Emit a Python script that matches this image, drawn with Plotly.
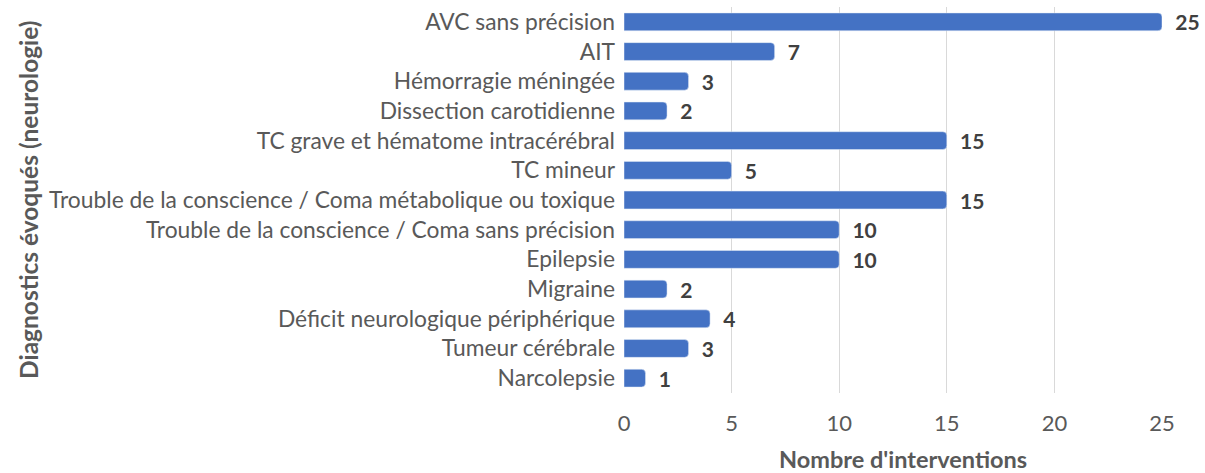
import plotly.graph_objects as go

categories = [
    "AVC sans précision",
    "AIT",
    "Hémorragie méningée",
    "Dissection carotidienne",
    "TC grave et hématome intracérébral",
    "TC mineur",
    "Trouble de la conscience / Coma métabolique ou toxique",
    "Trouble de la conscience / Coma sans précision",
    "Epilepsie",
    "Migraine",
    "Déficit neurologique périphérique",
    "Tumeur cérébrale",
    "Narcolepsie",
]
values = [25, 7, 3, 2, 15, 5, 15, 10, 10, 2, 4, 3, 1]
x_ticks = [0, 5, 10, 15, 20, 25]

FONT = "Lato"
GRAY = "#595959"

fig = go.Figure(
    go.Bar(
        x=values,
        y=categories,
        orientation="h",
        marker=dict(color="#4472C4"),
        width=0.6,
        text=["\u00a0\u00a0" + str(v) for v in values],
        textposition="outside",
        constraintext="none",
        textfont=dict(family=FONT, size=21, color="#404040", weight="bold"),
        cliponaxis=False,
        hoverinfo="skip",
    )
)

fig.update_layout(
    width=1205,
    height=473,
    margin=dict(l=624, r=43, t=7, b=80, autoexpand=False),
    plot_bgcolor="white",
    paper_bgcolor="white",
    barcornerradius=4,
    showlegend=False,
    font=dict(family=FONT, size=22, color=GRAY),
)
fig.update_xaxes(
    range=[0, 25],
    tickvals=x_ticks,
    showgrid=True,
    gridcolor="#D9D9D9",
    gridwidth=1,
    zeroline=False,
    showline=False,
    ticks="",
    ticklabelstandoff=15,
    automargin=False,
    tickfont=dict(family=FONT, size=22, color=GRAY),
)
fig.update_yaxes(
    categoryorder="array",
    categoryarray=categories[::-1],
    showgrid=False,
    ticks="",
    ticklabelstandoff=8,
    automargin=False,
    tickfont=dict(family=FONT, size=22.8, color=GRAY),
)
fig.add_annotation(
    text="<b>Diagnostics évoqués (neurologie)</b>", textangle=-90, showarrow=False,
    xref="paper", yref="paper", x=(28 - 624) / 538, y=0.5, xanchor="center", yanchor="middle",
    font=dict(family=FONT, size=24.5, color=GRAY),
)
fig.add_annotation(
    text="<b>Nombre d'interventions</b>", showarrow=False,
    xref="paper", yref="paper", x=(903 - 624) / 538, y=-(459 - 393) / 386, xanchor="center", yanchor="middle",
    font=dict(family=FONT, size=23.5, color=GRAY),
)
fig.write_html("out.html", config={"displayModeBar": False},
               post_script="document.body.style.margin='0px';")
